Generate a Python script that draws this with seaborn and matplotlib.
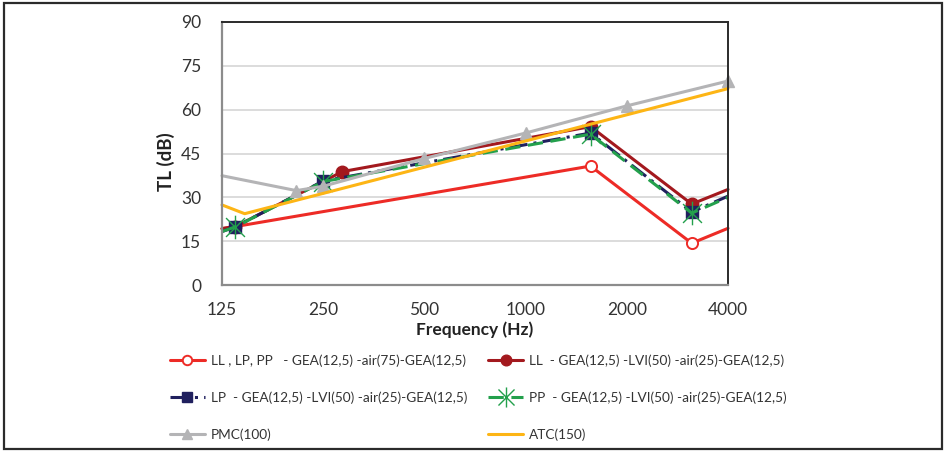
import numpy as np
import pandas as pd
import matplotlib
matplotlib.use("Agg")
import matplotlib.pyplot as plt
from matplotlib.path import Path
from matplotlib.patches import Rectangle
import seaborn as sns

# Transmission loss (dB) versus frequency (Hz) for each wall build-up
freq_ref = [125, 137, 1560, 3120, 4000]
tl_ref = [19.3, 20.0, 40.7, 14.3, 19.4]

freq_ll = [125, 137, 285, 1560, 3120, 4000]
tl_ll = [19.3, 20.0, 38.8, 54.2, 27.7, 32.7]

freq_lp = [125, 137, 250, 1560, 3120, 4000]
tl_lp = [18.3, 19.9, 35.6, 52.0, 25.0, 30.4]

freq_pp = [125, 137, 250, 1560, 3120, 4000]
tl_pp = [18.3, 19.9, 35.4, 51.6, 24.6, 30.0]

freq_pmc = [125, 208, 250, 500, 1000, 2000, 4000]
tl_pmc = [37.4, 32.3, 33.8, 43.3, 52.0, 61.3, 69.8]

freq_atc = [125, 146, 4000]
tl_atc = [27.4, 24.4, 67.2]

labels = [
    "LL , LP, PP   - GEA(12,5) -air(75)-GEA(12,5)",
    "LL  - GEA(12,5) -LVI(50) -air(25)-GEA(12,5)",
    "LP  - GEA(12,5) -LVI(50) -air(25)-GEA(12,5)",
    "PP  - GEA(12,5) -LVI(50) -air(25)-GEA(12,5)",
    "PMC(100)",
    "ATC(150)",
]

x_ticks = [125, 250, 500, 1000, 2000, 4000]
y_ticks = [0, 15, 30, 45, 60, 75, 90]

sns.set_theme(style="white")
plt.rcParams["font.family"] = ["Lato", "DejaVu Sans"]

fig = plt.figure(figsize=(9.46, 4.53), dpi=100)
ax = fig.add_axes([222 / 946, 1 - 285 / 453, 506 / 946, 263 / 453])

# asterisk-style star marker: an X crossed with a vertical stroke
star = Path(
    [(-1, -1), (1, 1), (-1, 1), (1, -1), (0, -1.25), (0, 1.25)],
    [Path.MOVETO, Path.LINETO, Path.MOVETO, Path.LINETO, Path.MOVETO, Path.LINETO],
)

series = [
    dict(f=freq_ref, tl=tl_ref, label=labels[0], color="#ED2B26", marker="o",
         ms=8, mfc="white", mew=1.4, ls="-", every=[1, 2, 3]),
    dict(f=freq_ll, tl=tl_ll, label=labels[1], color="#A3191E", marker="o",
         ms=9, mfc="#A3191E", mew=1, ls="-", every=[1, 2, 3, 4]),
    dict(f=freq_lp, tl=tl_lp, label=labels[2], color="#20205E", marker="s",
         ms=8.5, mfc="#20205E", mew=1, ls=(0, (6, 2, 1, 2)), every=[1, 2, 3, 4]),
    dict(f=freq_pp, tl=tl_pp, label=labels[3], color="#23A04C", marker=star,
         ms=17, mfc="none", mew=1.0, ls=(0, (5, 2.5)), every=[1, 2, 3, 4]),
    dict(f=freq_pmc, tl=tl_pmc, label=labels[4], color="#B4B4B6", marker="^",
         ms=9, mfc="#B4B4B6", mew=1, ls="-", every=[1, 2, 3, 4, 5, 6]),
    dict(f=freq_atc, tl=tl_atc, label=labels[5], color="#FDB515", marker=None,
         ms=0, mfc="none", mew=0, ls="-", every=None),
]

for s in series:
    df = pd.DataFrame({"Frequency": s["f"], "TL": s["tl"]})
    sns.lineplot(
        data=df, x="Frequency", y="TL", ax=ax, sort=False, estimator=None,
        color=s["color"], linewidth=2.2, linestyle=s["ls"], label=s["label"],
        marker=s["marker"], markersize=s["ms"], markerfacecolor=s["mfc"],
        markeredgecolor=s["color"], markeredgewidth=s["mew"],
        markevery=s["every"], clip_on=False,
    )

ax.set_xscale("log", base=2)
ax.set_xlim(125, 4000)
ax.set_ylim(0, 90)
ax.set_xticks(x_ticks)
ax.set_xticklabels([str(t) for t in x_ticks])
ax.xaxis.set_minor_locator(matplotlib.ticker.NullLocator())
ax.set_yticks(y_ticks)
ax.set_yticklabels([str(t) for t in y_ticks])

ax.grid(axis="y", color="#D9D9D9", linewidth=1.3)
ax.set_axisbelow(True)
for side in ("left", "bottom"):
    ax.spines[side].set_color("#8C8C8C")
    ax.spines[side].set_linewidth(1.6)
for side in ("top", "right"):
    ax.spines[side].set_color("#2B2B2B")
    ax.spines[side].set_linewidth(1.4)

ax.tick_params(axis="both", direction="out", length=5, width=1.2, color="#8C8C8C",
               labelsize=12.5, labelcolor="#333333")
ax.tick_params(axis="y", pad=10)
ax.tick_params(axis="x", pad=7)

ax.set_xlabel("Frequency (Hz)", fontsize=12.5, fontweight="bold", color="#222222")
ax.set_ylabel("TL (dB)", fontsize=13.5, fontweight="bold", color="#222222")
ax.xaxis.set_label_coords(0.5, -0.14)
ax.yaxis.set_label_coords(-0.093, 0.47)

handles, labs = ax.get_legend_handles_labels()
ax.get_legend().remove()
order = [0, 2, 4, 1, 3, 5]
leg = fig.legend(
    [handles[i] for i in order], [labs[i] for i in order],
    loc="upper left", bbox_to_anchor=(170 / 946, 1 - 354 / 453),
    ncol=2, frameon=False, fontsize=9.8, borderpad=0, borderaxespad=0,
    handlelength=2.55, handletextpad=0.45, columnspacing=1.55, labelspacing=1.8,
    markerscale=0.85,
)
for t in leg.get_texts():
    t.set_color("#333333")

# outer frame around the whole figure
fig.patches.append(Rectangle((4 / 946, 4 / 453), 938 / 946, 446 / 453,
                             transform=fig.transFigure, fill=False,
                             edgecolor="#2B2B2B", linewidth=1.6))

fig.savefig("out.png", dpi=100)
